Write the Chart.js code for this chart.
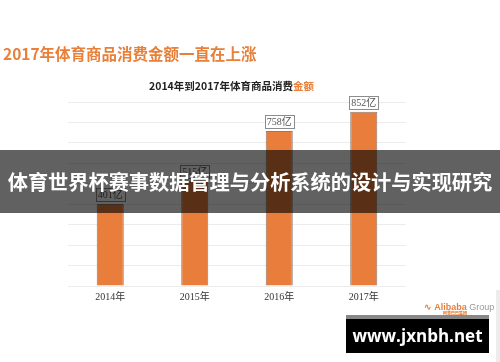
<!DOCTYPE html>
<html>
<head>
<meta charset="utf-8">
<script src="https://cdn.jsdelivr.net/npm/chart.js@4"></script>
<style>
  html, body { margin: 0; padding: 0; background: #fff; }
  #wrap { position: relative; width: 500px; height: 362px; overflow: hidden; font-family: "Noto Sans CJK SC", sans-serif; }
  #mychart { position: absolute; left: 0; top: 0; }
  .title { position: absolute; left: 3px; top: 43px; font-size: 15.5px; font-weight: bold; color: #e8803a; white-space: nowrap; line-height: 20px; }
  .sub { position: absolute; left: 149px; top: 79px; font-size: 10.5px; font-weight: bold; color: #222; white-space: nowrap; line-height: 14px; }
  .sub span { color: #e8803a; }
  .banner { position: absolute; left: 0; top: 150px; width: 500px; height: 63px; background: rgba(0,0,0,0.62);
            color: #fff; font-size: 20.2px; font-weight: bold; line-height: 63px; text-align: center; white-space: nowrap; }
  .ali { position: absolute; left: 424px; top: 302px; font-family: Arial, "Liberation Sans", sans-serif; font-size: 9px; white-space: nowrap; color: #e8803a; font-weight: bold; line-height: 10px; }
  .ali i { font-style: normal; font-weight: normal; color: #999; }
  .ali b { position: absolute; left: 19px; top: 9px; font-size: 4px; line-height: 5px; color: #e8803a; font-family: "Noto Sans CJK SC", sans-serif; }
  .site { position: absolute; left: 346px; top: 319px; width: 143px; height: 34px; background: #000; color: #fff;
          font-family: "Open Sans", "DejaVu Sans", sans-serif; font-weight: bold; font-size: 17px; line-height: 34px; text-align: center; }
  .shade { position: absolute; left: 346px; top: 315px; width: 143px; height: 4px; background: #888; }
  .edge { position: absolute; left: 496px; top: 290px; width: 4px; height: 72px; background: #ececec; }
</style>
</head>
<body>
<div id="wrap">
  <canvas id="mychart" width="500" height="362"></canvas>
  <div class="title">2017年体育商品消费金额一直在上涨</div>
  <div class="sub">2014年到2017年体育商品消费<span>金额</span></div>
  <div class="banner">体育世界杯赛事数据管理与分析系统的设计与实现研究</div>
  <div class="edge"></div>
  <div class="ali">&#8767; Alibaba <i>Group</i><b>阿里巴巴集团</b></div>
  <div class="shade"></div>
  <div class="site">www.jxnbh.net</div>
</div>
<script>
// data
var years = ['2014年', '2015年', '2016年', '2017年']
var spending = [401, 515, 758, 852]
var unit = '亿'

// boxed value labels above each bar
const boxLabels = {
    id: 'boxLabels',
    afterDatasetsDraw(chart) {
        const ctx = chart.ctx
        const meta = chart.getDatasetMeta(0)
        ctx.save()
        ctx.font = '10px "Liberation Serif", "Noto Sans CJK SC", serif'
        ctx.textAlign = 'center'
        ctx.textBaseline = 'middle'
        meta.data.forEach((bar, i) => {
            const txt = spending[i] + unit
            const w = ctx.measureText(txt).width + 4
            const h = 13
            const x = bar.x - w / 2
            const y = bar.y - 3 - h
            ctx.fillStyle = '#fff'
            ctx.fillRect(x, y, w, h)
            ctx.strokeStyle = '#8c8c8c'
            ctx.lineWidth = 1
            ctx.strokeRect(Math.round(x) + 0.5, Math.round(y) + 0.5, Math.round(w), h)
            ctx.fillStyle = '#555'
            ctx.fillText(txt, bar.x, y + h / 2 + 1)
        })
        ctx.restore()
    }
}

const ctx = document.getElementById('mychart')
new Chart(ctx, {
    type: 'bar',
    data: {
        labels: years,
        datasets: [{
            data: spending,
            backgroundColor: '#e97e3c',
            borderColor: '#8d7b70',
            borderWidth: 1,
            barPercentage: 0.32,
            categoryPercentage: 1
        }]
    },
    options: {
        responsive: false,
        animation: false,
        layout: { padding: { left: 68, right: 94, top: 102, bottom: 56 } },
        plugins: { legend: { display: false }, tooltip: { enabled: false } },
        scales: {
            y: {
                min: 0,
                max: 900,
                ticks: { display: false, stepSize: 100 },
                grid: { color: '#ececec', drawTicks: false },
                border: { display: false }
            },
            x: {
                grid: { display: false, drawTicks: false },
                border: { display: false },
                ticks: { color: '#333', padding: 5, font: { size: 10, family: '"Liberation Serif", "Noto Sans CJK SC", serif' } },
                afterFit: (scale) => { scale.height = 20 }
            }
        }
    },
    plugins: [boxLabels]
})
</script>
</body>
</html>
